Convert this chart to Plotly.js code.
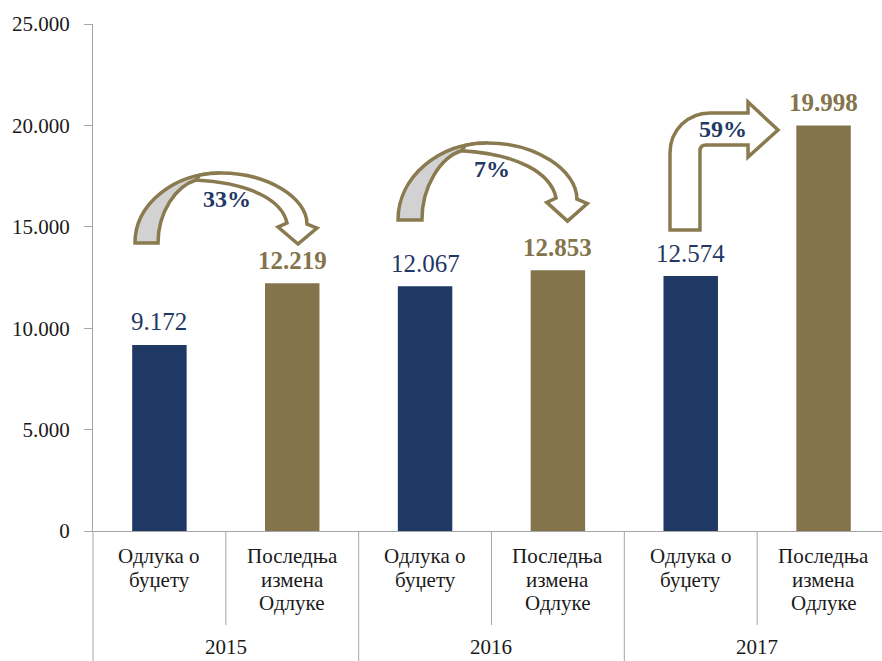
<!DOCTYPE html>
<html>
<head>
<meta charset="utf-8">
<script src="https://cdn.plot.ly/plotly-3.0.1.min.js"></script>
<style>html,body{margin:0;padding:0;background:#fff;}#chart{width:882px;height:661px;}</style>
</head>
<body>
<div id="chart"></div>
<script>
// ---- data ----
const years = ['2015', '2016', '2017'];
const categories = [['Одлука о', 'буџету'], ['Последња', 'измена', 'Одлуке']];
const budgetValues = [9172, 12067, 12574];
const revisedValues = [12219, 12853, 19998];
const changeLabels = ['33%', '7%', '59%'];
const yTickValues = [0, 5000, 10000, 15000, 20000, 25000];

// ---- style ----
const NAVY = '#1F3864';
const OLIVE = '#84744C';
const ARROW = '#8A7A4F';
const GRID = '#A6A6A6';
const FONT = 'Liberation Serif, Times New Roman, serif';

const X0 = -0.5, X1 = 5.44;
const W = 882, H = 661, ML = 93, MT = 24, MB = 130;
const PW = W - ML, PH = H - MT - MB;

const fmt = v => String(v).replace(/\B(?=(\d{3})+(?!\d))/g, '.');
const xp = x => (x - X0) / (X1 - X0);
const PX = x => (x - ML) / PW;
const PY = y => (MT + PH - y) / PH;
const P = (x, y) => PX(x).toFixed(4) + ',' + PY(y).toFixed(4);

const budgetX = years.map((_, i) => 2 * i);
const revisedX = years.map((_, i) => 2 * i + 1);

const traces = [
  { type: 'bar', x: budgetX, y: budgetValues, width: 0.41, marker: { color: NAVY }, hoverinfo: 'none' },
  { type: 'bar', x: revisedX, y: revisedValues, width: 0.41, marker: { color: OLIVE }, hoverinfo: 'none' }
];

const annotations = [];
budgetValues.forEach((v, i) => annotations.push({
  x: budgetX[i], y: v, xref: 'x', yref: 'y', text: fmt(v), showarrow: false,
  yanchor: 'middle', yshift: 23, font: { family: FONT, size: 25, color: NAVY }
}));
revisedValues.forEach((v, i) => annotations.push({
  x: revisedX[i], y: v, xref: 'x', yref: 'y', text: '<b>' + fmt(v) + '</b>', showarrow: false,
  yanchor: 'middle', yshift: 23, font: { family: FONT, size: 25, color: OLIVE }
}));
// category labels (one annotation per line for Excel-like line spacing)
years.forEach((_, i) => {
  categories.forEach((lines, j) => {
    lines.forEach((ln, k) => annotations.push({
      x: xp(2 * i + j), y: PY(556 + 23.5 * k), xref: 'paper', yref: 'paper', text: ln, showarrow: false,
      xanchor: 'center', yanchor: 'middle', font: { family: FONT, size: 21, color: '#1a1a1a' }
    }));
  });
});
years.forEach((yr, i) => annotations.push({
  x: xp(2 * i + 0.5), y: PY(647), xref: 'paper', yref: 'paper', text: yr, showarrow: false,
  xanchor: 'center', yanchor: 'middle', borderpad: 0, font: { family: FONT, size: 21, color: '#1a1a1a' }
}));
const pctPos = [[227, 199], [492, 169], [723, 129]];
changeLabels.forEach((t, i) => annotations.push({
  x: PX(pctPos[i][0]), y: PY(pctPos[i][1]), xref: 'paper', yref: 'paper', text: '<b>' + t + '</b>',
  showarrow: false, xanchor: 'center', yanchor: 'middle', font: { family: FONT, size: 24, color: NAVY }
}));

const shapes = [];
// dividers under the axis
[-0.5, 1.5, 3.5].forEach(x => shapes.push({ type: 'line', xref: 'paper', yref: 'paper',
  x0: xp(x), x1: xp(x), y0: 0, y1: PY(661), line: { color: GRID, width: 1 } }));
[0.5, 2.5, 4.5].forEach(x => shapes.push({ type: 'line', xref: 'paper', yref: 'paper',
  x0: xp(x), x1: xp(x), y0: 0, y1: PY(625), line: { color: GRID, width: 1 } }));

// curved arrows
function curved(L, B, sx, sy) {
  const T = (x, y) => P(L + (x - 135) * sx, B + (y - 243) * sy);
  const gray = `M${T(135,243)} C${T(135,204)} ${T(174,173)} ${T(221,173)} L${T(196,180)} C${T(176,186)} ${T(158,212)} ${T(158,243)} Z`;
  const white = `M${T(200,175)} Q${T(210,173)} ${T(221,173)} C${T(268,173)} ${T(307,198)} ${T(307,224)} L${T(317,228)} L${T(298,244)} L${T(278,227)} L${T(287,223)} C${T(282,200)} ${T(250,183)} ${T(196,180)} Z`;
  shapes.push({ type: 'path', xref: 'paper', yref: 'paper', path: gray, fillcolor: '#D2D2D2', line: { color: ARROW, width: 3.5 } });
  shapes.push({ type: 'path', xref: 'paper', yref: 'paper', path: white, fillcolor: '#FFFFFF', line: { color: ARROW, width: 3.5 } });
}
curved(135, 243, 1, 1);
curved(398, 220, 1.04, 1.1);
// bent arrow
shapes.push({ type: 'path', xref: 'paper', yref: 'paper', fillcolor: '#FFFFFF', line: { color: ARROW, width: 3.5 },
  path: `M${P(670,230)} L${P(670,153)} C${P(670,130)} ${P(688,113)} ${P(710,113)} L${P(748,113)} L${P(748,102)} L${P(778,130)} L${P(748,157)} L${P(748,145)} L${P(706,145)} Q${P(700,145)} ${P(700,151)} L${P(700,230)} Z` });

const layout = {
  width: W, height: H,
  margin: { l: ML, r: 0, t: MT, b: MB, pad: 0 },
  paper_bgcolor: '#fff', plot_bgcolor: '#fff',
  showlegend: false, barmode: 'overlay', separators: ',.',
  xaxis: {
    range: [X0, X1], showticklabels: false, ticks: '', showgrid: false, zeroline: false,
    showline: true, linecolor: GRID, linewidth: 1, automargin: false
  },
  yaxis: {
    range: [0, 25000], tickvals: yTickValues, ticktext: yTickValues.map(fmt), showgrid: false, zeroline: false,
    showline: true, linecolor: GRID, linewidth: 1, ticks: 'outside', ticklen: 8, tickcolor: GRID,
    ticklabelstandoff: 10,
    tickfont: { family: FONT, size: 21, color: '#1a1a1a' }, automargin: false
  },
  annotations: annotations,
  shapes: shapes
};

Plotly.newPlot('chart', traces, layout, { staticPlot: true, displayModeBar: false });
</script>
</body>
</html>
